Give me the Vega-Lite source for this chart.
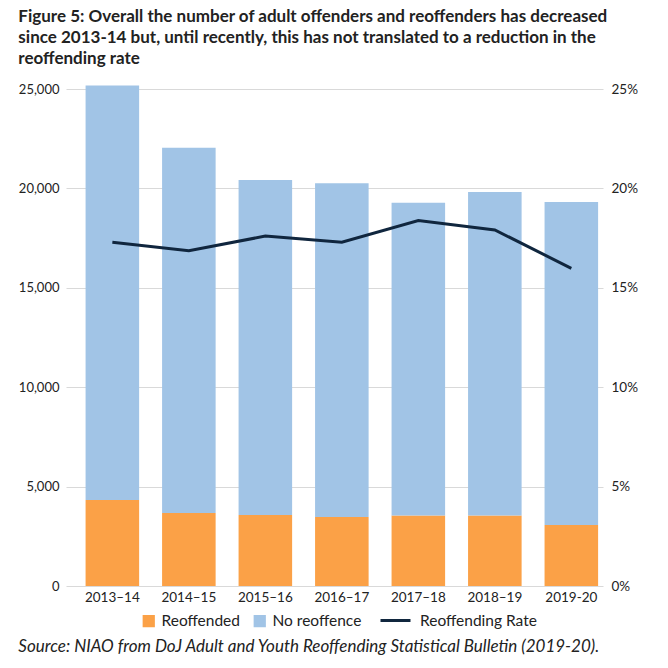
{
  "$schema": "https://vega.github.io/schema/vega-lite/v6.json",
  "background": "white",
  "padding": {"left": 18, "top": 8, "right": 5, "bottom": 5},
  "title": {
    "text": [
      "Figure 5: Overall the number of adult offenders and reoffenders has decreased",
      "since 2013-14 but, until recently, this has not translated to a reduction in the",
      "reoffending rate"
    ],
    "anchor": "start",
    "font": "Lato",
    "fontSize": 17,
    "fontWeight": "bold",
    "color": "#222222",
    "lineHeight": 21,
    "offset": 14
  },
  "datasets": {
    "bars": [
      {"year": "2013–14", "category": "Reoffended", "count": 4330},
      {"year": "2013–14", "category": "No reoffence", "count": 20840},
      {"year": "2014–15", "category": "Reoffended", "count": 3670},
      {"year": "2014–15", "category": "No reoffence", "count": 18380},
      {"year": "2015–16", "category": "Reoffended", "count": 3570},
      {"year": "2015–16", "category": "No reoffence", "count": 16850},
      {"year": "2016–17", "category": "Reoffended", "count": 3470},
      {"year": "2016–17", "category": "No reoffence", "count": 16790},
      {"year": "2017–18", "category": "Reoffended", "count": 3540},
      {"year": "2017–18", "category": "No reoffence", "count": 15740},
      {"year": "2018–19", "category": "Reoffended", "count": 3540},
      {"year": "2018–19", "category": "No reoffence", "count": 16280},
      {"year": "2019-20", "category": "Reoffended", "count": 3070},
      {"year": "2019-20", "category": "No reoffence", "count": 16250}
    ],
    "rate": [
      {"year": "2013–14", "rate": 0.1729},
      {"year": "2014–15", "rate": 0.1687},
      {"year": "2015–16", "rate": 0.1760},
      {"year": "2016–17", "rate": 0.1729},
      {"year": "2017–18", "rate": 0.1838},
      {"year": "2018–19", "rate": 0.1791},
      {"year": "2019-20", "rate": 0.1598}
    ]
  },
  "vconcat": [
    {
      "width": 537,
      "height": 497,
      "title": {
        "text": "Source: NIAO from DoJ Adult and Youth Reoffending Statistical Bulletin (2019-20).",
        "orient": "bottom",
        "anchor": "start",
        "font": "Lato",
        "fontSize": 17,
        "fontStyle": "italic",
        "fontWeight": "normal",
        "color": "#222222",
        "offset": 0
      },
      "layer": [
        {
          "data": {"name": "bars"},
          "mark": {"type": "bar"},
          "encoding": {
            "x": {
              "field": "year",
              "type": "nominal",
              "sort": null,
              "scale": {
                "domain": ["2013–14", "2014–15", "2015–16", "2016–17", "2017–18", "2018–19", "2019-20"],
                "paddingInner": 0.3,
                "paddingOuter": 0.16,
                "align": 0.8
              },
              "axis": {
                "title": null,
                "labelAngle": 0,
                "domain": false,
                "ticks": false,
                "labelPadding": 4,
                "labelFontSize": 13.5,
                "labelFont": "Lato",
                "labelColor": "#222222"
              }
            },
            "y": {
              "field": "count",
              "type": "quantitative",
              "stack": "zero",
              "scale": {"domain": [0, 25000]},
              "axis": {
                "title": null,
                "values": [0, 5000, 10000, 15000, 20000, 25000],
                "format": ",d",
                "grid": true,
                "gridColor": "#d9d9d9",
                "ticks": false,
                "domain": false,
                "labelPadding": 7,
                "labelFontSize": 13,
                "labelFont": "Lato",
                "labelColor": "#222222"
              }
            },
            "fill": {
              "field": "category",
              "type": "nominal",
              "sort": ["Reoffended", "No reoffence"],
              "scale": {
                "domain": ["Reoffended", "No reoffence"],
                "range": ["#FBA147", "#A1C4E6"]
              },
              "legend": {
                "title": null,
                "orient": "bottom",
                "direction": "horizontal",
                "symbolType": "square",
                "symbolSize": 150,
                "labelOffset": 5,
                "labelFontSize": 15.5,
                "labelFont": "Lato",
                "labelColor": "#222222",
                "columnPadding": 12,
                "padding": 9,
                "offset": 0
              }
            }
          }
        },
        {
          "data": {"name": "rate"},
          "mark": {"type": "line", "strokeWidth": 3},
          "encoding": {
            "x": {"field": "year", "type": "nominal", "sort": null},
            "y": {
              "field": "rate",
              "type": "quantitative",
              "scale": {"domain": [0, 0.25]},
              "axis": {
                "orient": "right",
                "title": null,
                "values": [0, 0.05, 0.1, 0.15, 0.2, 0.25],
                "format": ".0%",
                "grid": false,
                "ticks": false,
                "domain": false,
                "labelPadding": 8,
                "labelFontSize": 13.5,
                "labelFont": "Lato",
                "labelColor": "#222222"
              }
            },
            "stroke": {
              "datum": "Reoffending Rate",
              "type": "nominal",
              "scale": {"domain": ["Reoffending Rate"], "range": ["#10263E"]},
              "legend": {
                "title": null,
                "orient": "bottom",
                "symbolType": "stroke",
                "symbolStrokeWidth": 3,
                "symbolSize": 900,
                "labelOffset": 8,
                "labelFontSize": 15.5,
                "labelFont": "Lato",
                "labelColor": "#222222",
                "padding": 0,
                "offset": 0
              }
            }
          }
        }
      ],
      "resolve": {"scale": {"y": "independent"}}
    }
  ],
  "resolve": {"legend": {"fill": "independent", "stroke": "independent"}},
  "config": {
    "view": {"stroke": null},
    "font": "Lato",
    "legend": {
      "layout": {"bottom": {"anchor": "middle", "direction": "horizontal", "margin": 8}}
    }
  }
}
